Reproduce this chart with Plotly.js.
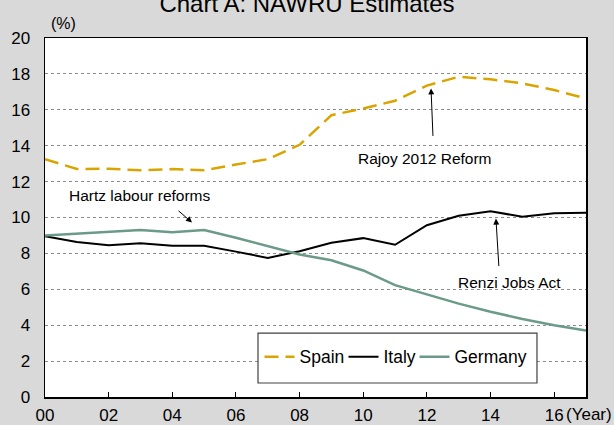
<!DOCTYPE html>
<html>
<head>
<meta charset="utf-8">
<script src="https://cdn.plot.ly/plotly-3.0.1.min.js"></script>
<style>html,body{margin:0;padding:0;background:#d9d9d9;}#chart{width:614px;height:425px;}</style>
</head>
<body>
<div id="chart"></div>
<script>
const years = [2000,2001,2002,2003,2004,2005,2006,2007,2008,2009,2010,2011,2012,2013,2014,2015,2016,2017];
const spain = [13.25,12.7,12.72,12.63,12.7,12.63,12.95,13.25,14.05,15.7,16.07,16.5,17.35,17.84,17.7,17.47,17.1,16.63];
const italy = [8.96,8.63,8.46,8.57,8.42,8.42,8.1,7.75,8.12,8.59,8.85,8.48,9.57,10.1,10.35,10.04,10.24,10.26];
const germany = [9.0,9.09,9.18,9.3,9.18,9.3,8.87,8.4,7.94,7.62,7.05,6.23,5.71,5.2,4.75,4.35,4.0,3.7];
const tickVals = [2000,2002,2004,2006,2008,2010,2012,2014,2016];
const tickText = ["00","02","04","06","08","10","12","14","16"];
const seriesNames = ["Spain","Italy","Germany"];

const FONT = "Liberation Sans, Arial, sans-serif";

const traces = [
  {x: years, y: spain, name: seriesNames[0], type: "scatter", mode: "lines", legendwidth: 39,
   line: {color: "#daa400", width: 2.5, dash: "14px,7px"}},
  {x: years, y: italy, name: seriesNames[1], type: "scatter", mode: "lines", legendwidth: 26,
   line: {color: "#000000", width: 2}},
  {x: years, y: germany, name: seriesNames[2], type: "scatter", mode: "lines", legendwidth: 72,
   line: {color: "#6b9b87", width: 2.5}}
];

const layout = {
  width: 614, height: 425,
  paper_bgcolor: "#d9d9d9", plot_bgcolor: "#ffffff",
  margin: {l: 45, r: 28, t: 38, b: 28, pad: 0},
  font: {family: FONT, color: "#000000", size: 17},
  title: {text: "Chart A: NAWRU Estimates", font: {family: FONT, size: 24, color: "#000"},
          x: 0.5, xref: "container", y: 0.992, yref: "container", yanchor: "middle"},
  xaxis: {range: [2000, 2017], tickvals: tickVals, ticktext: tickText,
          ticks: "inside", ticklen: 5, tickcolor: "#000", tickwidth: 1,
          showgrid: false, zeroline: false, showline: true, linecolor: "#000", linewidth: 1.5, mirror: true,
          tickfont: {family: FONT, size: 17}, ticklabelstandoff: 2, fixedrange: true},
  yaxis: {range: [0, 20], dtick: 2, tick0: 0, ticks: "", showgrid: true,
          gridcolor: "#8c8c8c", griddash: "dot", gridwidth: 1,
          zeroline: false, showline: true, linecolor: "#000", linewidth: 1.5, mirror: true,
          tickfont: {family: FONT, size: 17}, ticklabelstandoff: 10, fixedrange: true},
  showlegend: true,
  legend: {orientation: "h", x: 0.3965, xanchor: "left", y: 0.112, yanchor: "middle",
           bgcolor: "rgba(0,0,0,0)", borderwidth: 0, font: {family: FONT, size: 17.5},
           itemwidth: 30, tracegroupgap: 0},
  shapes: [
    {type: "rect", xref: "paper", yref: "paper", x0: 0.3937, x1: 0.9094, y0: 0.039, y1: 0.178,
     fillcolor: "#ffffff", line: {color: "#404040", width: 1.2}, layer: "above"}
  ],
  annotations: [
    {text: "(%)", xref: "paper", yref: "paper", x: 0.0074, y: 1.039, xanchor: "left", yanchor: "middle",
     showarrow: false, font: {family: FONT, size: 16}},
    {text: "(Year)", xref: "paper", yref: "paper", x: 0.959, y: -0.049, xanchor: "left", yanchor: "middle",
     showarrow: false, font: {family: FONT, size: 17}},
    {text: "Hartz labour reforms", x: 2000.69, y: 11.23, xanchor: "left", yanchor: "middle",
     showarrow: false, font: {family: FONT, size: 15.5}},
    {text: "Rajoy 2012 Reform", x: 2011.94, y: 13.29, xanchor: "center", yanchor: "middle",
     showarrow: false, font: {family: FONT, size: 15.5}},
    {text: "Renzi Jobs Act", x: 2014.61, y: 6.38, xanchor: "center", yanchor: "middle",
     showarrow: false, font: {family: FONT, size: 15.5}},
    {text: "", x: 2004.62, y: 9.72, ax: -15, ay: -13, showarrow: true, arrowhead: 2, arrowsize: 1.2,
     arrowwidth: 1, arrowcolor: "#000", standoff: 0},
    {text: "", x: 2012.13, y: 17.19, ax: 2, ay: 49, showarrow: true, arrowhead: 2, arrowsize: 1.2,
     arrowwidth: 1, arrowcolor: "#000", standoff: 0},
    {text: "", x: 2014.17, y: 9.94, ax: 3, ay: 49, showarrow: true, arrowhead: 2, arrowsize: 1.2,
     arrowwidth: 1, arrowcolor: "#000", standoff: 0}
  ]
};

Plotly.newPlot("chart", traces, layout, {displayModeBar: false, staticPlot: true});
</script>
</body>
</html>
